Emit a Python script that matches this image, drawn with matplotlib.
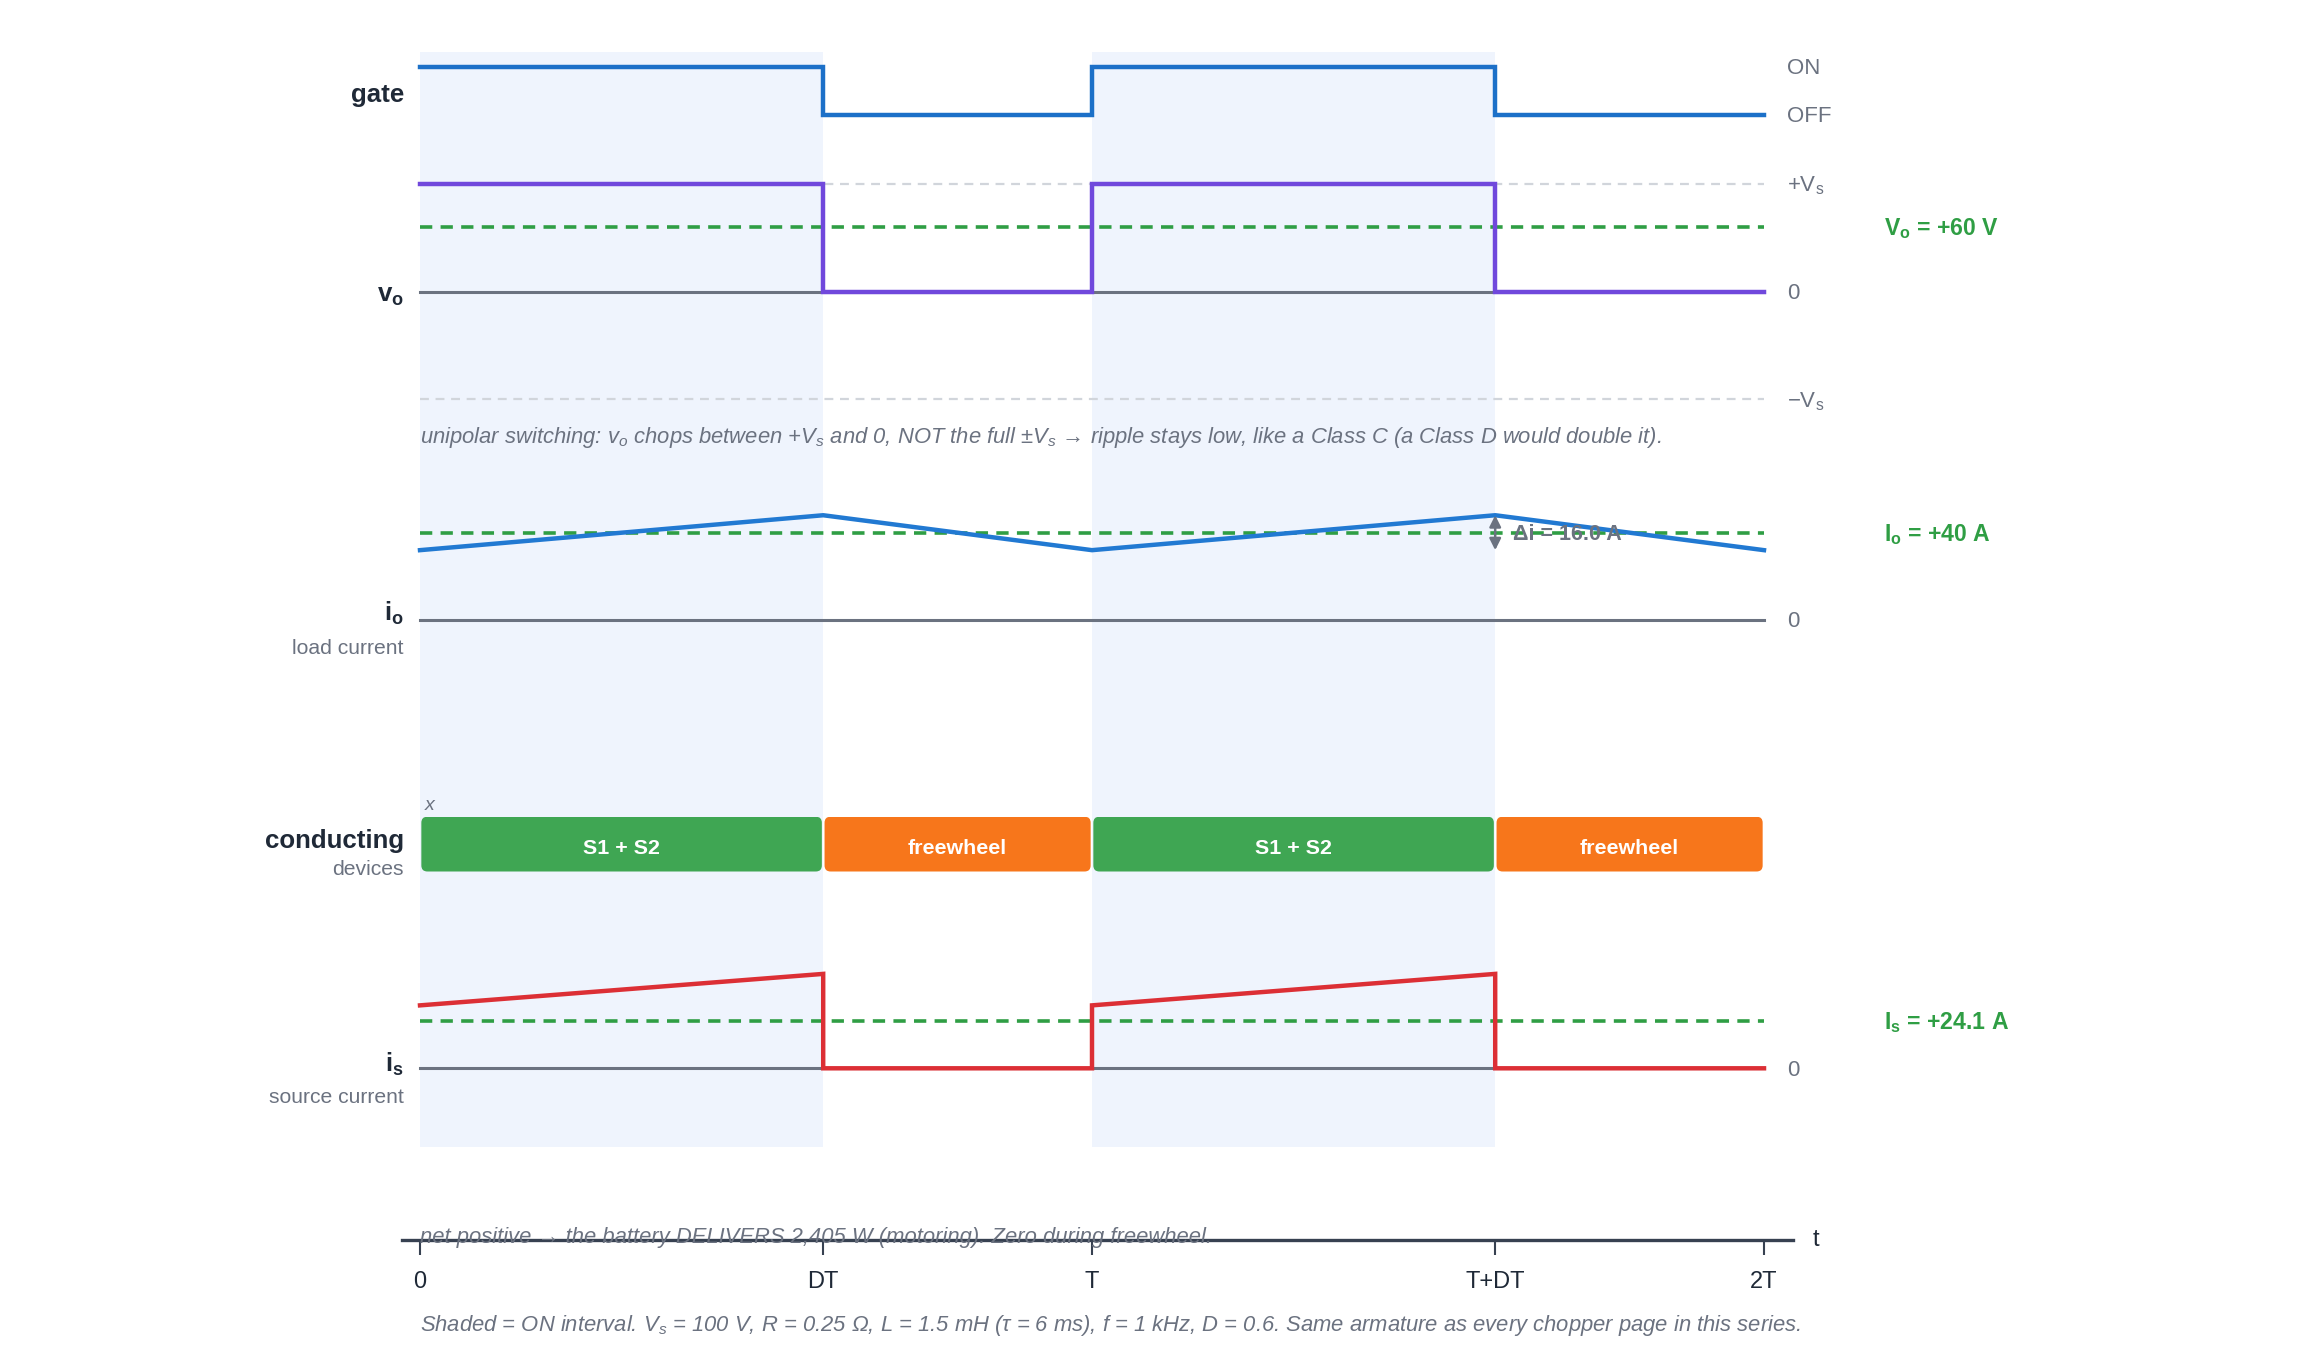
import matplotlib
matplotlib.use("Agg")
import matplotlib.pyplot as plt
from matplotlib.patches import FancyBboxPatch

plt.rcParams['font.family'] = ['Liberation Sans', 'DejaVu Sans']
plt.rcParams['mathtext.fontset'] = 'custom'
plt.rcParams['mathtext.rm'] = 'Liberation Sans'
plt.rcParams['mathtext.it'] = 'Liberation Sans:italic'
plt.rcParams['mathtext.bf'] = 'Liberation Sans:bold'

# circuit values
Vs = 100.0
D = 0.6
Vo_avg = 60.0
Io_avg = 40.0
Is_avg = 24.1
Imin, Imax = 32.0, 48.0
delta_i = 16.0

# switching instants (in units of T)
seg_t = [0, 0.6, 1.0, 1.6, 2.0]
gate_state = [1, 0, 1, 0, 0]
vo_state = [100, 0, 100, 0, 0]
io_t = [0, 0.6, 1.0, 1.6, 2.0]
io_v = [32, 48, 32, 48, 32]
is_t = [0, 0.6, 0.6, 1.0, 1.0, 1.6, 1.6, 2.0]
is_v = [32, 48, 0, 0, 32, 48, 0, 0]
on_spans = [(0, 0.6), (1.0, 1.6)]
cond_labels = ['S1 + S2', 'freewheel', 'S1 + S2', 'freewheel']
tick_pos = [0, 0.6, 1.0, 1.6, 2.0]
tick_lab = ['0', 'DT', 'T', 'T+DT', '2T']

# colours
C_SHADE = '#eff4fd'
C_GATE = '#1c70c8'
C_VO = '#7048dc'
C_IO = '#2179d2'
C_IS = '#dc2f35'
C_AVG = '#2f9e44'
C_ZERO = '#6b7280'
C_REF = '#d1d5db'
C_TXT = '#1f2937'
C_SUB = '#6b7280'
C_ON = '#3fa653'
C_FW = '#f7761b'

FS_MAIN = 18.6
FS_SUB = 15.2
FS_TICK = 16
FS_GREEN = 16.6
FS_NOTE = 15.8

W, H = 2320, 1368
fig = plt.figure(figsize=(W / 100, H / 100), dpi=100)
fig.patch.set_facecolor('white')

T0_PX, T2_PX = 420, 1764
XL_PX, XR_PX = 402, 1793
ppt = (T2_PX - T0_PX) / 2.0
xlim = ((XL_PX - T0_PX) / ppt, (XR_PX - T0_PX) / ppt)


def make_row(va, pa, vb, pb, lo, hi):
    s = (pa - pb) / (vb - va)
    top = pa - (hi - va) * s
    bot = pa - (lo - va) * s
    ax = fig.add_axes([XL_PX / W, 1 - bot / H, (XR_PX - XL_PX) / W, (bot - top) / H])
    ax.set_xlim(xlim)
    ax.set_ylim(lo, hi)
    ax.axis('off')
    ax.patch.set_alpha(0)
    return ax


x_lab = -0.024
x_right = 2.034
x_green = 2.178

# shading
bg = make_row(0, 1147, 1, 52, 0, 1)
for a, b in on_spans:
    bg.axvspan(a, b, color=C_SHADE, lw=0)

# gate row
ag = make_row(0, 115.4, 1, 66.6, -0.3, 1.3)
ag.step(seg_t, gate_state, where='post', color=C_GATE, lw=3.2, solid_joinstyle='miter')
ag.text(x_lab, 0.42, 'gate', ha='right', va='center', fontsize=FS_MAIN, fontweight='bold', color=C_TXT)
ag.text(x_right, 0.97, 'ON', ha='left', va='center', fontsize=FS_TICK, color=C_SUB)
ag.text(x_right, -0.03, 'OFF', ha='left', va='center', fontsize=FS_TICK, color=C_SUB)

# vo row
av = make_row(0, 291.5, 100, 183.5, -110, 110)
av.plot([0, 2], [Vs, Vs], color=C_REF, lw=1.6, dashes=(4, 3))
av.plot([0, 2], [-Vs, -Vs], color=C_REF, lw=1.6, dashes=(4, 3))
av.plot([0, 2], [0, 0], color=C_ZERO, lw=2.2)
av.plot([0, 2], [Vo_avg, Vo_avg], color=C_AVG, lw=2.6, dashes=(3.4, 2.3))
av.step(seg_t, vo_state, where='post', color=C_VO, lw=3.2, solid_joinstyle='miter')
av.text(x_lab, -4, r'v$_\mathbf{o}$', ha='right', va='center', fontsize=FS_MAIN, fontweight='bold', color=C_TXT)
av.text(x_right, Vs - 2, r'+V$_\mathrm{s}$', ha='left', va='center', fontsize=FS_TICK, color=C_SUB)
av.text(x_right, -2, '0', ha='left', va='center', fontsize=FS_TICK, color=C_SUB)
av.text(x_right, -Vs - 2, r'−V$_\mathrm{s}$', ha='left', va='center', fontsize=FS_TICK, color=C_SUB)
av.text(x_green, Vo_avg - 2, r'V$_\mathbf{o}$ = +60 V', ha='left', va='center', fontsize=FS_GREEN,
        fontweight='bold', color=C_AVG)

fig.text(T0_PX / W, 1 - 438 / H,
         r'unipolar switching: v$_o$ chops between +V$_s$ and 0, NOT the full ±V$_s$ → ripple stays low, '
         r'like a Class C (a Class D would double it).',
         ha='left', va='center', fontsize=FS_NOTE, style='italic', color=C_SUB)

# io row
ai = make_row(0, 620, 40, 532.7, -15, 55)
ai.plot([0, 2], [0, 0], color=C_ZERO, lw=2.2)
ai.plot([0, 2], [Io_avg, Io_avg], color=C_AVG, lw=2.6, dashes=(3.4, 2.3))
ai.plot(io_t, io_v, color=C_IO, lw=3.2)
ai.annotate('', xy=(1.6, Imin), xytext=(1.6, Imax),
            arrowprops=dict(arrowstyle='<|-|>', color=C_ZERO, lw=1.8, mutation_scale=17,
                            shrinkA=0, shrinkB=0))
ai.text(1.6 + 0.027, Io_avg - 0.6, 'Δi = %.1f A' % delta_i, ha='left', va='center',
        fontsize=15.5, fontweight='bold', color=C_ZERO)
ai.text(x_lab, 3, r'i$_\mathbf{o}$', ha='right', va='center', fontsize=FS_MAIN, fontweight='bold', color=C_TXT)
ai.text(x_lab, -13, 'load current', ha='right', va='center', fontsize=FS_SUB, color=C_SUB)
ai.text(x_right, -0.8, '0', ha='left', va='center', fontsize=FS_TICK, color=C_SUB)
ai.text(x_green, Io_avg - 0.8, r'I$_\mathbf{o}$ = +40 A', ha='left', va='center', fontsize=FS_GREEN,
        fontweight='bold', color=C_AVG)

# conducting row
ac = make_row(0, 871.5, 1, 816.7, 0, 1)
gap = 0.002
for i, lab in enumerate(cond_labels):
    a, b = seg_t[i], seg_t[i + 1]
    col = C_ON if i % 2 == 0 else C_FW
    box = FancyBboxPatch((a + gap, 0), b - a - 2 * gap, 1,
                         boxstyle='round,pad=0,rounding_size=0.009',
                         mutation_aspect=12.26, fc=col, ec='none')
    ac.add_patch(box)
    ac.text((a + b) / 2, 0.42, lab, ha='center', va='center', fontsize=15.4,
            fontweight='bold', color='white')
ac.text(x_lab, 0.56, 'conducting', ha='right', va='center', fontsize=FS_MAIN, fontweight='bold', color=C_TXT)
ac.text(x_lab, 0.03, 'devices', ha='right', va='center', fontsize=FS_SUB, color=C_SUB)
fig.text(425 / W, 1 - 806 / H, 'x', ha='left', va='center', fontsize=14, style='italic', color=C_SUB)

# is row
aS = make_row(0, 1068.3, 24.1, 1020.9, -15, 55)
aS.plot([0, 2], [0, 0], color=C_ZERO, lw=2.2)
aS.plot([0, 2], [Is_avg, Is_avg], color=C_AVG, lw=2.6, dashes=(3.4, 2.3))
aS.plot(is_t, is_v, color=C_IS, lw=3.2, solid_joinstyle='miter')
aS.text(x_lab, 2.2, r'i$_\mathbf{s}$', ha='right', va='center', fontsize=FS_MAIN, fontweight='bold', color=C_TXT)
aS.text(x_lab, -14.6, 'source current', ha='right', va='center', fontsize=FS_SUB, color=C_SUB)
aS.text(x_right, -1, '0', ha='left', va='center', fontsize=FS_TICK, color=C_SUB)
aS.text(x_green, Is_avg - 1, r'I$_\mathbf{s}$ = +24.1 A', ha='left', va='center', fontsize=FS_GREEN,
        fontweight='bold', color=C_AVG)

fig.text(T0_PX / W, 1 - 1237 / H,
         'net positive → the battery DELIVERS 2,405 W (motoring). Zero during freewheel.',
         ha='left', va='center', fontsize=FS_NOTE, style='italic', color=C_SUB)

# time axis
at = fig.add_axes([XL_PX / W, 1 - 1240 / H, (XR_PX - XL_PX) / W, 0.0001])
at.set_xlim(xlim)
at.patch.set_alpha(0)
for sp in ['top', 'left', 'right']:
    at.spines[sp].set_visible(False)
at.spines['bottom'].set_color('#374151')
at.spines['bottom'].set_linewidth(2.4)
at.set_yticks([])
at.set_xticks(tick_pos)
at.set_xticklabels(tick_lab, fontsize=17, color=C_TXT)
at.tick_params(axis='x', direction='out', length=11, width=1.5, color='#374151', pad=11)
fig.text(1813 / W, 1 - 1240 / H, 't', ha='left', va='center', fontsize=17, color=C_TXT)

fig.text(T0_PX / W, 1 - 1325 / H,
         r'Shaded = ON interval. V$_s$ = 100 V, R = 0.25 Ω, L = 1.5 mH (τ = 6 ms), f = 1 kHz, D = 0.6. '
         'Same armature as every chopper page in this series.',
         ha='left', va='center', fontsize=FS_NOTE, style='italic', color=C_SUB)

fig.savefig('out.png', dpi=100, facecolor='white')
